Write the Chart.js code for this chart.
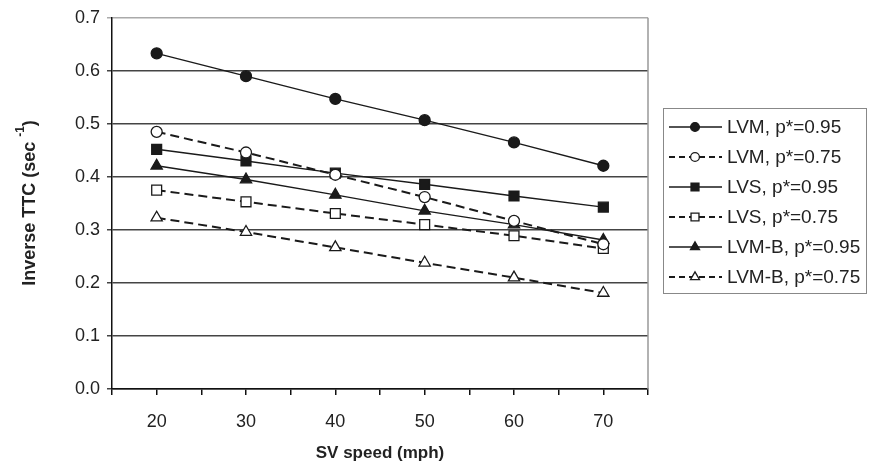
<!DOCTYPE html>
<html>
<head>
<meta charset="utf-8">
<script src="https://cdn.jsdelivr.net/npm/chart.js@4.4.1/dist/chart.umd.min.js"></script>
<style>
  html, body { margin: 0; padding: 0; background: #fff; }
  #wrap { width: 869px; height: 472px; }
</style>
</head>
<body>
<div id="wrap"><canvas id="grafico"></canvas></div>
<script>
// dados
const velocidades = [20, 30, 40, 50, 60, 70];
const lvm95  = [0.633, 0.590, 0.547, 0.507, 0.465, 0.421];
const lvm75  = [0.485, 0.446, 0.404, 0.362, 0.317, 0.273];
const lvs95  = [0.452, 0.430, 0.407, 0.386, 0.364, 0.343];
const lvs75  = [0.375, 0.353, 0.331, 0.310, 0.289, 0.265];
const lvmb95 = [0.421, 0.395, 0.366, 0.336, 0.310, 0.281];
const lvmb75 = [0.323, 0.296, 0.267, 0.238, 0.210, 0.181];
const rotulos = ['LVM, p*=0.95', 'LVM, p*=0.75', 'LVS, p*=0.95', 'LVS, p*=0.75', 'LVM-B, p*=0.95', 'LVM-B, p*=0.75'];
const yTicks = [0, 0.1, 0.2, 0.3, 0.4, 0.5, 0.6, 0.7];

const FONTE = '"Liberation Sans", Arial, sans-serif';

function pontos(valores) {
  return velocidades.map((v, i) => ({ x: v, y: valores[i] }));
}

function serie(label, valores, estilo, cheio, tracejado, raio) {
  return {
    label: label,
    data: pontos(valores),
    borderColor: '#1a1a1a',
    borderWidth: tracejado ? 2 : 1.4,
    borderDash: tracejado ? [9, 5] : [],
    pointStyle: estilo,
    pointRadius: raio,
    pointBorderWidth: 1.3,
    pointBorderColor: '#1a1a1a',
    pointBackgroundColor: cheio ? '#1a1a1a' : '#ffffff',
    tension: 0,
    fill: false
  };
}

// Legenda com linha + marcador
const legendaPlugin = {
  id: 'legenda',
  afterDraw(chart) {
    const ctx = chart.ctx;
    ctx.save();
    ctx.strokeStyle = '#888';
    ctx.lineWidth = 1;
    ctx.strokeRect(663.5, 108.5, 203, 185);
    chart.data.datasets.forEach((ds, i) => {
      const y = 127 + i * 30;
      ctx.beginPath();
      ctx.strokeStyle = ds.borderColor;
      ctx.lineWidth = ds.borderWidth;
      ctx.setLineDash(ds.borderDash.length ? [6, 4] : []);
      ctx.moveTo(669, y);
      ctx.lineTo(722, y);
      ctx.stroke();
      ctx.setLineDash([]);
      ctx.fillStyle = ds.pointBackgroundColor;
      ctx.strokeStyle = ds.pointBorderColor;
      ctx.lineWidth = ds.pointBorderWidth;
      Chart.helpers.drawPoint(ctx, {
        pointStyle: ds.pointStyle,
        radius: ds.pointRadius * 0.8,
        rotation: 0,
        borderWidth: ds.pointBorderWidth
      }, 695, y);
      ctx.fillStyle = '#222';
      ctx.font = '19px ' + FONTE;
      ctx.textBaseline = 'middle';
      ctx.textAlign = 'left';
      ctx.fillText(ds.label, 727, y + 1);
    });
    ctx.restore();
  }
};

// Borda direita da área do gráfico e título do eixo Y com expoente
const molduraPlugin = {
  id: 'moldura',
  beforeDatasetsDraw(chart) {
    const { ctx, chartArea } = chart;
    ctx.save();
    ctx.strokeStyle = '#999';
    ctx.lineWidth = 1.5;
    ctx.beginPath();
    ctx.moveTo(chartArea.right, chartArea.top);
    ctx.lineTo(chartArea.right, chartArea.bottom);
    ctx.stroke();
    ctx.restore();
  },
  afterDraw(chart) {
    const ctx = chart.ctx;
    ctx.save();
    ctx.translate(30, 203);
    ctx.rotate(-Math.PI / 2);
    ctx.fillStyle = '#222';
    ctx.textBaseline = 'middle';
    const principal = 'Inverse TTC (sec ';
    const expoente = '-1';
    const fim = ')';
    ctx.font = 'bold 18px ' + FONTE;
    const w1 = ctx.measureText(principal).width;
    const w3 = ctx.measureText(fim).width;
    ctx.font = 'bold 12px ' + FONTE;
    const w2 = ctx.measureText(expoente).width;
    let x = -(w1 + w2 + w3) / 2;
    ctx.font = 'bold 18px ' + FONTE;
    ctx.fillText(principal, x, 0);
    x += w1;
    ctx.font = 'bold 12px ' + FONTE;
    ctx.fillText(expoente, x, -9);
    x += w2;
    ctx.font = 'bold 18px ' + FONTE;
    ctx.fillText(fim, x, 0);
    ctx.restore();
  }
};

new Chart(document.getElementById('grafico').getContext('2d'), {
  type: 'line',
  data: {
    datasets: [
      serie(rotulos[0], lvm95, 'circle', true, false, 5.5),
      serie(rotulos[1], lvm75, 'circle', false, true, 5.5),
      serie(rotulos[2], lvs95, 'rect', true, false, 7),
      serie(rotulos[3], lvs75, 'rect', false, true, 7),
      serie(rotulos[4], lvmb95, 'triangle', true, false, 6.5),
      serie(rotulos[5], lvmb75, 'triangle', false, true, 6.5)
    ]
  },
  options: {
    responsive: true,
    maintainAspectRatio: false,
    animation: false,
    layout: { padding: { left: 0, right: 221, top: 12, bottom: 0 } },
    plugins: {
      legend: { display: false },
      tooltip: { enabled: false }
    },
    scales: {
      x: {
        type: 'linear',
        min: 15,
        max: 75,
        afterFit: (eixo) => { eixo.height = 83; },
        border: { color: '#111', width: 1.5 },
        grid: { drawOnChartArea: false, drawTicks: true, tickLength: 6, color: '#111', lineWidth: 1.5 },
        ticks: {
          stepSize: 5,
          padding: 16,
          color: '#222',
          font: { family: FONTE, size: 18 },
          callback: (v) => (v % 10 === 0 ? String(v) : '')
        },
        title: {
          display: true,
          text: 'SV speed (mph)',
          color: '#222',
          font: { family: FONTE, size: 17, weight: 'bold' },
          padding: { top: 0, bottom: 8 }
        }
      },
      y: {
        min: 0,
        max: 0.7,
        afterFit: (eixo) => { eixo.width = 112; },
        afterBuildTicks: (eixo) => { eixo.ticks = yTicks.map(v => ({ value: v })); },
        border: { color: '#111', width: 1.5 },
        grid: {
          tickLength: 5,
          lineWidth: 1.5,
          color: (c) => (c.tick && c.tick.value >= 0.69 ? '#aaa' : '#444')
        },
        ticks: {
          padding: 7,
          color: '#222',
          font: { family: FONTE, size: 18 },
          callback: (v) => Number(v).toFixed(1)
        }
      }
    }
  },
  plugins: [legendaPlugin, molduraPlugin]
});
</script>
</body>
</html>
